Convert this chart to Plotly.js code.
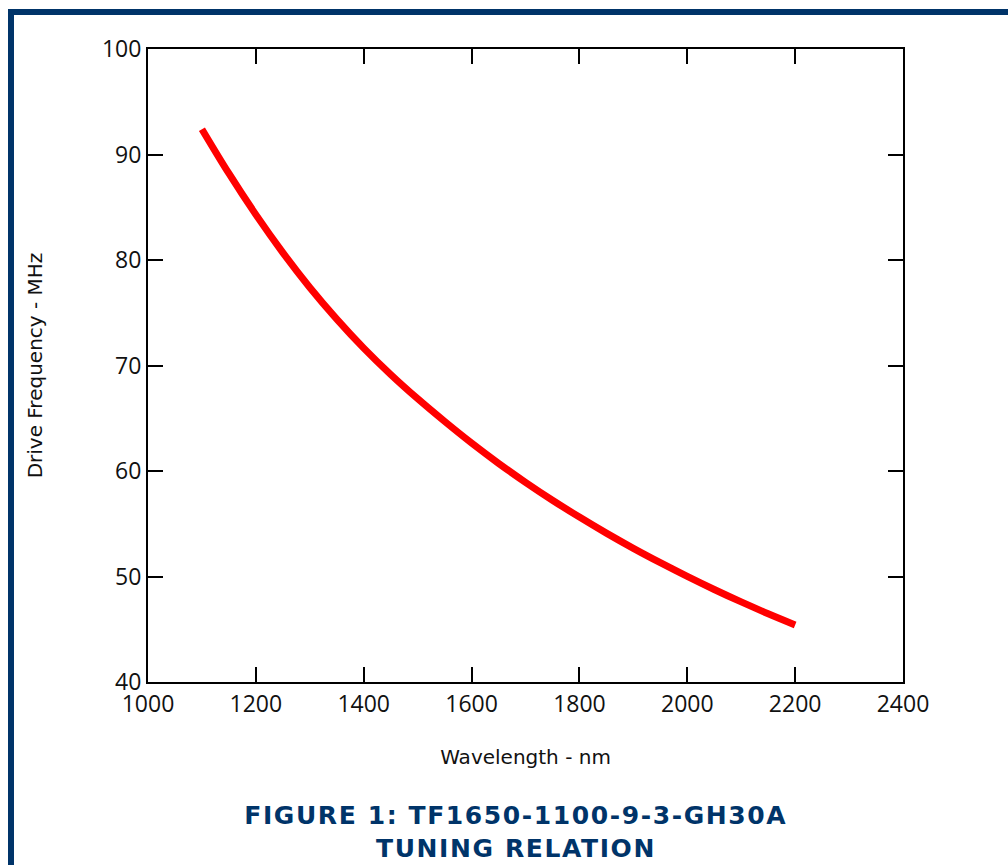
<!DOCTYPE html>
<html>
<head>
<meta charset="utf-8">
<script src="https://cdn.plot.ly/plotly-3.0.1.min.js"></script>
<style>
html,body{margin:0;padding:0;background:#fff;}
#wrap{position:relative;width:1008px;height:865px;overflow:hidden;}
#frame{position:absolute;left:8px;top:9px;right:-10px;bottom:-10px;border-left:6px solid #003469;border-top:6px solid #003469;pointer-events:none;z-index:5;}
#chart{position:absolute;left:0;top:0;width:1008px;height:865px;}
</style>
</head>
<body>
<div id="wrap">
<div id="chart"></div>
<div id="frame"></div>
</div>
<script>
const wavelength = [1100,1150,1200,1250,1300,1350,1400,1450,1500,1550,1600,1650,1700,1750,1800,1850,1900,1950,2000,2050,2100,2150,2200];
const frequency  = [92.4,88.2,84.3,80.7,77.4,74.4,71.65,69.15,66.85,64.7,62.65,60.73,58.93,57.23,55.63,54.11,52.67,51.31,50.01,48.77,47.59,46.47,45.41];
const xTicks = [1000,1200,1400,1600,1800,2000,2200,2400];
const yTicks = [40,50,60,70,80,90,100];
const titleLine1 = "FIGURE 1: TF1650-1100-9-3-GH30A";
const titleLine2 = "TUNING RELATION";
const xTitle = "Wavelength - nm";
const yTitle = "Drive Frequency - MHz";

const trace = {
  x: wavelength, y: frequency, type: 'scatter', mode: 'lines',
  line: {color: '#ff0000', width: 7, shape: 'spline', smoothing: 1},
  hoverinfo: 'skip'
};
const tickFont = {family: 'Open Sans, DejaVu Sans, sans-serif', size: 23, color: '#111'};
const titleFont = {family: 'DejaVu Sans, sans-serif', size: 20, color: '#111'};
const layout = {
  width: 1008, height: 865,
  margin: {l: 148, r: 105, t: 49, b: 183},
  paper_bgcolor: '#fff', plot_bgcolor: '#fff',
  showlegend: false,
  xaxis: {
    range: [1000, 2400], tickvals: xTicks, ticktext: xTicks.map(String),
    ticks: 'inside', ticklen: 15, tickwidth: 2, tickcolor: '#000',
    showline: true, linecolor: '#000', linewidth: 2, mirror: 'ticks',
    showgrid: false, zeroline: false, tickfont: tickFont,
    title: {text: xTitle, font: titleFont, standoff: 32}
  },
  yaxis: {
    range: [40, 100], tickvals: yTicks, ticktext: yTicks.map(String),
    ticks: 'inside', ticklen: 15, tickwidth: 2, tickcolor: '#000',
    showline: true, linecolor: '#000', linewidth: 2, mirror: 'ticks',
    showgrid: false, zeroline: false, tickfont: tickFont,
    title: {text: yTitle, font: titleFont, standoff: 54}
  },
  annotations: [
    {text: '<b>' + titleLine1 + '</b>', xref: 'paper', yref: 'paper', x: 0.487, y: -0.211,
     xanchor: 'center', yanchor: 'middle', showarrow: false,
     font: {family: 'DejaVu Sans, Verdana, sans-serif', size: 25, color: '#003469'}},
    {text: '<b>' + titleLine2 + '</b>', xref: 'paper', yref: 'paper', x: 0.487, y: -0.263,
     xanchor: 'center', yanchor: 'middle', showarrow: false,
     font: {family: 'DejaVu Sans, Verdana, sans-serif', size: 25, color: '#003469'}}
  ]
};
Plotly.newPlot('chart', [trace], layout, {displayModeBar: false, staticPlot: true}).then(function(gd){
  // widen letter spacing of the figure caption like the reference
  gd.querySelectorAll('.annotation-text').forEach(function(t){ t.style.letterSpacing = '1.6px'; });
});
</script>
</body>
</html>
